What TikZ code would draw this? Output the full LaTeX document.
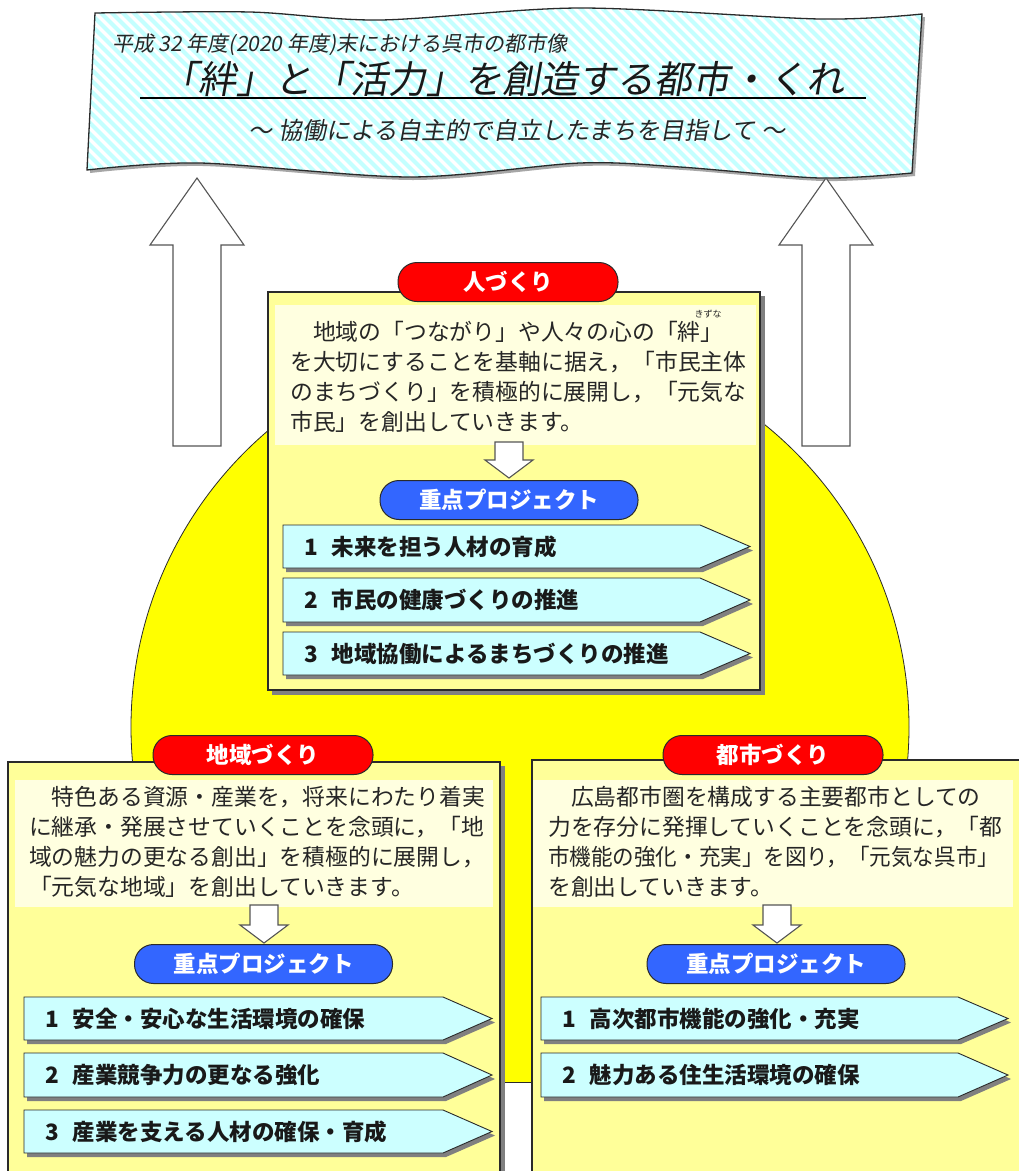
\documentclass[tikz,border=0pt]{standalone}
\usepackage{graphicx}
\usepackage{fontspec}
\newfontfamily\jp{Noto Sans CJK JP}
\newfontfamily\jpit[FakeSlant=0.18]{Noto Sans CJK JP}
\definecolor{stripecyan}{HTML}{C4FFFF}
\definecolor{circleyellow}{HTML}{FFFF00}
\definecolor{boxyellow}{HTML}{FFFF99}
\definecolor{panelyellow}{HTML}{FFFFE0}
\definecolor{pillred}{HTML}{FF0000}
\definecolor{pillblue}{HTML}{3366FF}
\definecolor{itemcyan}{HTML}{CCFFFF}
\definecolor{shadowgray}{HTML}{808080}
\definecolor{edgegray}{HTML}{2A2A2A}
\tikzset{
  outerbox/.style={draw=edgegray, line width=1.1pt, fill=boxyellow},
  itembox/.style={draw=edgegray, line width=0.9pt, fill=itemcyan},
  itemtext/.style={inner sep=0pt, font=\jp\bfseries\fontsize{22.5}{26}\selectfont, text=black!90},
  bodytext/.style={inner sep=0pt, anchor=base west, font=\jp\fontsize{22.8}{27}\selectfont, text=black!85},
  redpill/.style={draw=edgegray, line width=1pt, fill=pillred, rounded corners=19pt,
    minimum width=220pt, minimum height=39pt, inner sep=0pt, text=white,
    font=\jp\bfseries\fontsize{22.5}{26}\selectfont},
  bluepill/.style={draw=edgegray, line width=1pt, fill=pillblue, rounded corners=19pt,
    minimum width=258pt, minimum height=39pt, inner sep=0pt, text=white,
    font=\jp\bfseries\fontsize{22.5}{26}\selectfont},
  blockarrow/.style={draw=edgegray!80, line width=1.1pt, fill=white, line join=miter},
}
\newcommand\projitem[8]{% #1 name #2 x0 #3 y0 #4 y1 #5 xs #6 xt #7 number #8 text
  \fill[shadowgray] ({#2+3},{#3+4}) -- ({#5+3},{#3+4}) -- ({#6+3},{(#3+#4)/2+4}) -- ({#5+3},{#4+4}) -- ({#2+3},{#4+4}) -- cycle;
  \draw[itembox] (#2,#3) -- (#5,#3) -- (#6,{(#3+#4)/2}) -- (#5,#4) -- (#2,#4) -- cycle;
  \node[itemtext, anchor=west] (#1) at ({#2+21},{(#3+#4)/2}) {#7\hspace{14pt}#8};
}
\newcommand\blockdown[3]{% #1 cx #2 ytop #3 ytip
  \draw[blockarrow] ({#1-14},#2) -- ({#1+14},#2) -- ({#1+14},{#3-18}) -- ({#1+24},{#3-18}) -- (#1,#3) -- ({#1-24},{#3-18}) -- ({#1-14},{#3-18}) -- cycle;
}
\newcommand\blockup[6]{% #1 cx(tip) #2 ytip #3 headhalf #4 shafthalf #5 headbase y #6 bottom y
  \draw[blockarrow] (#1,#2) -- ({#1+#3},#5) -- ({#1+#4},#5) -- ({#1+#4},#6) -- ({#1-#4},#6) -- ({#1-#4},#5) -- ({#1-#3},#5) -- cycle;
}
\begin{document}
\begin{tikzpicture}[x=1pt,y=-1pt]
\useasboundingbox (0,0) rectangle (1019,1171);
\clip (0,0) rectangle (1019,1171);
\fill[white] (0,0) rectangle (1019,1171);

% ---------- banner ----------
\def\bannerpath{plot[smooth] coordinates {(95,13) (250,12) (380,20) (580,8) (820,19) (922,14)} -- (912,173) -- plot[smooth] coordinates {(912,173) (820,178) (680,167) (580,163) (410,177) (200,163) (87,170)} -- cycle}
\begin{scope}[shift={(3,3)}]
  \fill[shadowgray!70] \bannerpath;
\end{scope}
\fill[white] \bannerpath;
\begin{scope}
  \clip \bannerpath;
  \foreach \k in {-220,-209,...,1000} {
    \draw[stripecyan, line width=4.2pt] (\k,0) -- ({\k+200},200);
  }
\end{scope}
\draw[edgegray, line width=1.3pt] \bannerpath;

\node[anchor=west, inner sep=0pt, font=\jpit\fontsize{21}{24}\selectfont, text=black!85] (bannertop) at (112,45) {平成 32 年度(2020 年度)末における呉市の都市像};
\node[anchor=west, inner sep=0pt, font=\jpit\fontsize{38}{42}\selectfont, text=black!90] (bannertitle) at (160,79) {「絆」と「活力」を創造する都市・くれ};
\coordinate (ulstart) at (140,98);
\coordinate (ulend) at (866,98);
\draw[black, line width=1.2pt] (ulstart) -- (ulend);
\node[inner sep=0pt, font=\jpit\fontsize{24}{28}\selectfont, text=black!85] (bannersub) at (517,130) {～ 協働による自主的で自立したまちを目指して ～};

% ---------- up arrows ----------
\blockup{197}{178}{47}{24}{245}{446}
\blockup{826}{178}{47}{24}{245}{446}

% ---------- yellow circle ----------
\begin{scope}
  \clip (0,0) rectangle (1019,1082);
  \fill[circleyellow] (520,727) circle[radius=389pt];
  \draw[edgegray, line width=0.8pt] (520,727) circle[radius=389pt];
\end{scope}
\draw[edgegray, line width=0.8pt] (360,1082) -- (680,1082);

% ---------- 人づくり ----------
\fill[shadowgray] (272,296) rectangle (765,695);
\draw[outerbox] (268,292) rectangle (760,690);
\fill[panelyellow] (275,305) rectangle (756,445);
\node[redpill] (hitolabel) at (508,282) {人づくり};
\node[bodytext] (hito1) at (290,340.5) {　地域の「つながり」や人々の心の「絆」};
\node[inner sep=0pt, font=\jp\fontsize{9}{10}\selectfont, text=black!85] (hitoruby) at (708,314) {きずな};
\node[bodytext] (hito2) at (290,370.5) {を大切にすることを基軸に据え，「市民主体};
\node[bodytext] (hito3) at (290,400.5) {のまちづくり」を積極的に展開し，「元気な};
\node[bodytext] (hito4) at (290,430.5) {市民」を創出していきます。};
\blockdown{509}{442}{478}
\node[bluepill] (hitoproj) at (509,500) {重点プロジェクト};
\projitem{hitoA}{283}{525}{568}{700}{750}{1}{未来を担う人材の育成}
\projitem{hitoB}{283}{578}{622}{700}{750}{2}{市民の健康づくりの推進}
\projitem{hitoC}{283}{632}{675}{700}{750}{3}{地域協働によるまちづくりの推進}

% ---------- 地域づくり ----------
\fill[shadowgray] (12,766) rectangle (505,1190);
\draw[outerbox] (8,762) rectangle (500,1185);
\fill[panelyellow] (15,780) rectangle (493,907);
\node[redpill] (chiikilabel) at (263,755) {地域づくり};
\node[bodytext] (chiiki1) at (29,805.5) {　特色ある資源・産業を，将来にわたり着実};
\node[bodytext] (chiiki2) at (29,835.5) {に継承・発展させていくことを念頭に，「地};
\node[bodytext] (chiiki3) at (29,865.5) {域の魅力の更なる創出」を積極的に展開し，};
\node[bodytext] (chiiki4) at (29,895.5) {「元気な地域」を創出していきます。};
\blockdown{264}{905}{943}
\node[bluepill] (chiikiproj) at (263.5,964) {重点プロジェクト};
\projitem{chiikiA}{24}{997}{1040}{443}{492}{1}{安全・安心な生活環境の確保}
\projitem{chiikiB}{24}{1053}{1097}{443}{492}{2}{産業競争力の更なる強化}
\projitem{chiikiC}{24}{1110}{1153}{443}{492}{3}{産業を支える人材の確保・育成}

% ---------- 都市づくり ----------
\fill[shadowgray] (536,764) rectangle (1030,1190);
\draw[outerbox] (532,760) rectangle (1025,1185);
\fill[panelyellow] (533,780) rectangle (1013,907);
\node[redpill] (toshilabel) at (773,755) {都市づくり};
\node[bodytext] (toshi1) at (548,805.5) {　広島都市圏を構成する主要都市としての};
\node[bodytext] (toshi2) at (548,835.5) {力を存分に発揮していくことを念頭に，「都};
\node[bodytext] (toshi3) at (548,865.5) {\scalebox{0.945}[1]{市機能の強化・充実」を図り，「元気な呉市」}};
\node[bodytext] (toshi4) at (548,895.5) {を創出していきます。};
\blockdown{777}{905}{943}
\node[bluepill] (toshiproj) at (776,964) {重点プロジェクト};
\projitem{toshiA}{541}{997}{1040}{958}{1008}{1}{高次都市機能の強化・充実}
\projitem{toshiB}{541}{1053}{1097}{958}{1008}{2}{魅力ある住生活環境の確保}
\end{tikzpicture}
\end{document}
